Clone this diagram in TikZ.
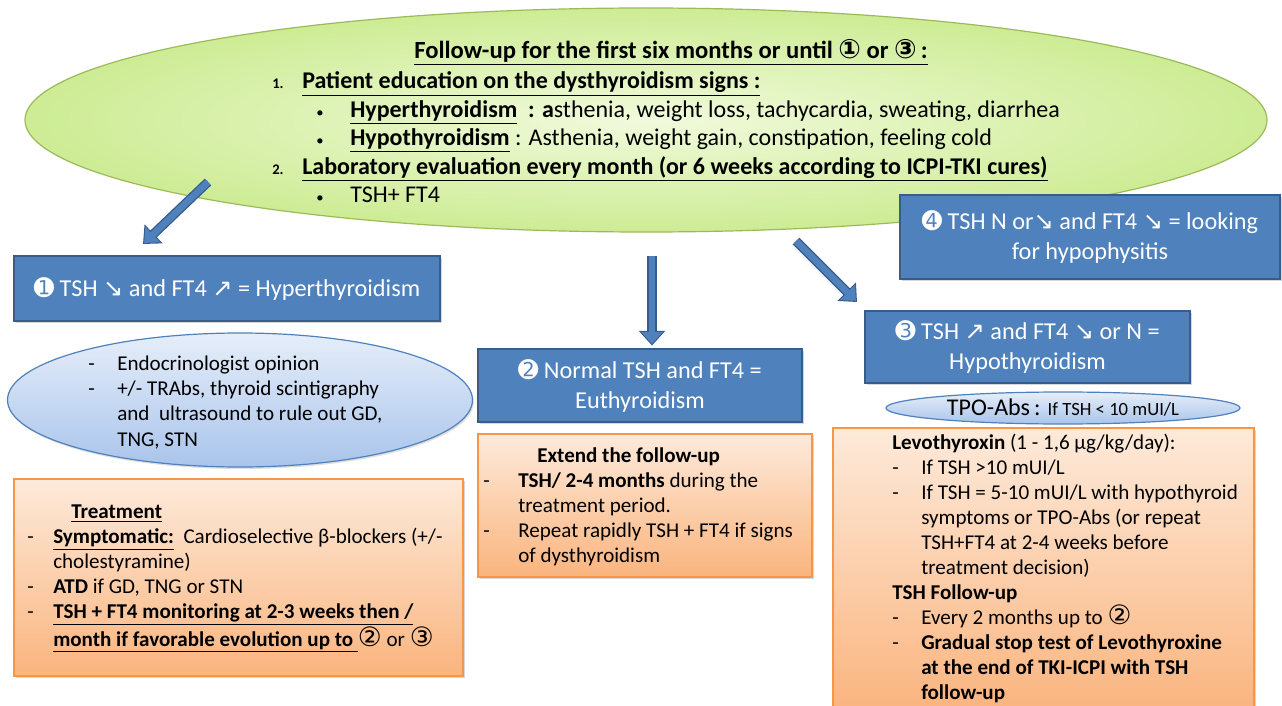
\documentclass[tikz,border=0pt]{standalone}
\usepackage{fontspec}
\setmainfont{Carlito}
\newfontfamily\sym{DejaVu Sans}
\usetikzlibrary{shapes.geometric,arrows.meta,shadows}

\definecolor{boxblue}{HTML}{4F81BD}
\definecolor{boxline}{HTML}{385D8A}
\definecolor{orangeline}{HTML}{F79646}
\definecolor{orangetop}{HTML}{FDEADA}
\definecolor{orangebot}{HTML}{FAB47E}
\definecolor{ovalline}{HTML}{4F81BD}
\definecolor{ovaltop}{HTML}{E6EEF9}
\definecolor{ovalbot}{HTML}{A9C4EB}
\definecolor{greenline}{HTML}{9BBB59}
\definecolor{greenin}{HTML}{F1FADC}
\definecolor{greenout}{HTML}{CDEC94}

% one pixel of the slide
\newlength\px
\setlength\px{0.75pt}
\newcommand\dashitem[1][29]{\makebox[#1\px][l]{-}}
\newcommand\circnum[1]{{\sym\fontsize{20}{20}\selectfont #1}}

\begin{document}
\begin{tikzpicture}[x=0.75pt,y=-0.75pt,
    bluebox/.style={rectangle, draw=boxline, line width=1.1pt, fill=boxblue,
      text=white, align=center, inner sep=0pt,
      font=\fontsize{18.2}{22.5}\selectfont,
      drop shadow={opacity=0.3, shadow xshift=1.2pt, shadow yshift=-1.2pt}},
    orangebox/.style={rectangle, draw=orangeline, line width=0.9pt,
      top color=orangetop, bottom color=orangebot,
      drop shadow={opacity=0.3, shadow xshift=1.2pt, shadow yshift=-1.2pt}},
    blueoval/.style={ellipse, draw=ovalline, line width=0.9pt,
      top color=ovaltop, bottom color=ovalbot, inner sep=0pt},
    txt/.style={anchor=base west, align=left, inner sep=0pt,
      font=\fontsize{15.8}{18.75}\selectfont},
    blockarrow/.style={draw=boxline, line width=7pt,
      -{Triangle[length=11pt,width=19pt]},
      postaction={draw=boxblue, line width=5pt,
        -{Triangle[length=9pt,width=15.5pt]}, shorten >=1.2pt}}]

  \useasboundingbox (0,0) rectangle (1282,706);
  \fill[white] (0,0) rectangle (1282,706);

  % follow-up ellipse (multi-line texts are placed at their last baseline)
  \node[ellipse, draw=greenline, line width=0.9pt, inner color=greenin,
    outer color=greenout, minimum width=931.5pt, minimum height=168pt,
    inner sep=0pt] (top) at (646,120) {};
  \node[anchor=base, inner sep=0pt,
    font=\bfseries\fontsize{18.5}{20}\selectfont] (title) at (671,59)
    {\underline{Follow-up for the first six months or until \circnum{①} or \circnum{③}\,:}};
  \node[anchor=base west, align=left, inner sep=0pt,
    font=\fontsize{18}{21.4}\selectfont] (signs) at (272,203)
    {\makebox[30\px][l]{\fontsize{11}{11}\selectfont\bfseries 1.}\textbf{\underline{Patient education on the dysthyroidism signs :}}\\
     \hspace*{44\px}\makebox[34\px][l]{\fontsize{11}{11}\selectfont •}\textbf{\underline{Hyperthyroidism}}~ \textbf{: a}sthenia, weight loss, tachycardia, sweating, diarrhea\\
     \hspace*{44\px}\makebox[34\px][l]{\fontsize{11}{11}\selectfont •}\textbf{\underline{Hypothyroidism}} : Asthenia, weight gain, constipation, feeling cold\\
     \makebox[30\px][l]{\fontsize{11}{11}\selectfont\bfseries 2.}\textbf{\underline{Laboratory evaluation every month (or 6 weeks according to ICPI-TKI cures)}}\\
     \hspace*{44\px}\makebox[34\px][l]{\fontsize{11}{11}\selectfont •}TSH+ FT4};

  % results
  \node[bluebox, minimum width=285pt, minimum height=63pt] (hypophys) at (1090,237)
    {{\sym ➍} TSH N or{\sym ↘} and FT4 {\sym ↘} = looking\\for hypophysitis};
  \node[bluebox, minimum width=319.5pt, minimum height=48.75pt] (hyper) at (227,288.5)
    {{\sym ➊} TSH {\sym ↘} and FT4 {\sym ↗} = Hyperthyroidism};
  \node[bluebox, minimum width=243pt, minimum height=54.75pt] (eu) at (640,385.5)
    {{\sym ➋} Normal TSH and FT4 =\\Euthyroidism};
  \node[bluebox, minimum width=243.75pt, minimum height=54pt] (hypo) at (1027.5,347)
    {{\sym ➌} TSH {\sym ↗} and FT4 {\sym ↘} or N =\\Hypothyroidism};

  \coordinate (a1s) at (208,182);
  \coordinate (a1e) at (143,244);
  \coordinate (a2s) at (652,256);
  \coordinate (a3s) at (796,241);
  \coordinate (a3e) at (857,302);
  \draw[blockarrow] (a1s) -- (a1e);
  \draw[blockarrow] (a2s) -- ([yshift=2pt]a2s |- eu.north);
  \draw[blockarrow] (a3s) -- (a3e);

  % hyperthyroidism
  \node[blueoval, minimum width=348.75pt, minimum height=100.5pt,
    drop shadow={opacity=0.25, shadow xshift=1pt, shadow yshift=-1.5pt}] (endo) at (240,400) {};
  \node[txt, font=\fontsize{15.8}{19.1}\selectfont] (endo-txt) at (88,446.4)
    {\dashitem Endocrinologist opinion\\
     \dashitem +/- TRAbs, thyroid scintigraphy\\
     \hspace*{29\px}and~ ultrasound to rule out GD,\\
     \hspace*{29\px}TNG, STN};
  \node[orangebox, minimum width=336.75pt, minimum height=147.75pt] (treat) at (238.5,577.5) {};
  \node[txt] (treat-txt) at (27,646)
    {\hspace*{44\px}\textbf{\underline{Treatment}}\\
     \dashitem[26]\textbf{\underline{Symptomatic:}}~ Cardioselective β-blockers (+/-\\
     \hspace*{26\px}cholestyramine)\\
     \dashitem[26]\textbf{ATD} if GD, TNG or STN\\
     \dashitem[26]\textbf{\underline{TSH + FT4 monitoring at 2-3 weeks then /}}\\
     \hspace*{26\px}\textbf{\underline{month if favorable evolution up to~}}\circnum{②} or \circnum{③}};

  % euthyroidism
  \node[orangebox, minimum width=250.5pt, minimum height=107.25pt] (extend) at (645,505.5) {};
  \node[txt] (extend-txt) at (483,562)
    {\hspace*{54\px}\textbf{Extend the follow-up}\\
     \dashitem[35]\textbf{TSH/ 2-4 months} during the\\
     \hspace*{35\px}treatment period.\\
     \dashitem[35]Repeat rapidly TSH + FT4 if signs\\
     \hspace*{35\px}of dysthyroidism};

  % hypothyroidism
  \node[blueoval, minimum width=265.5pt, minimum height=24pt,
    font=\fontsize{18}{20}\selectfont] (tpo) at (1063,408)
    {TPO-Abs\,: {\fontsize{14}{16}\selectfont If TSH < 10 mUI/L}};
  \node[orangebox, minimum width=315.75pt, minimum height=213pt] (levo) at (1043.5,570) {};
  \node[txt] (levo-txt) at (892,699)
    {\textbf{Levothyroxin} (1 - 1,6 µg/kg/day):\\
     \dashitem If TSH >10 mUI/L\\
     \dashitem If TSH = 5-10 mUI/L with hypothyroid\\
     \hspace*{29\px}symptoms or TPO-Abs (or repeat\\
     \hspace*{29\px}TSH+FT4 at 2-4 weeks before\\
     \hspace*{29\px}treatment decision)\\
     \textbf{TSH Follow-up}\\
     \dashitem Every 2 months up to \circnum{②}\\
     \dashitem\textbf{Gradual stop test of Levothyroxine}\\
     \hspace*{29\px}\textbf{at the end of TKI-ICPI with TSH}\\
     \hspace*{29\px}\textbf{follow-up}};
\end{tikzpicture}
\end{document}
